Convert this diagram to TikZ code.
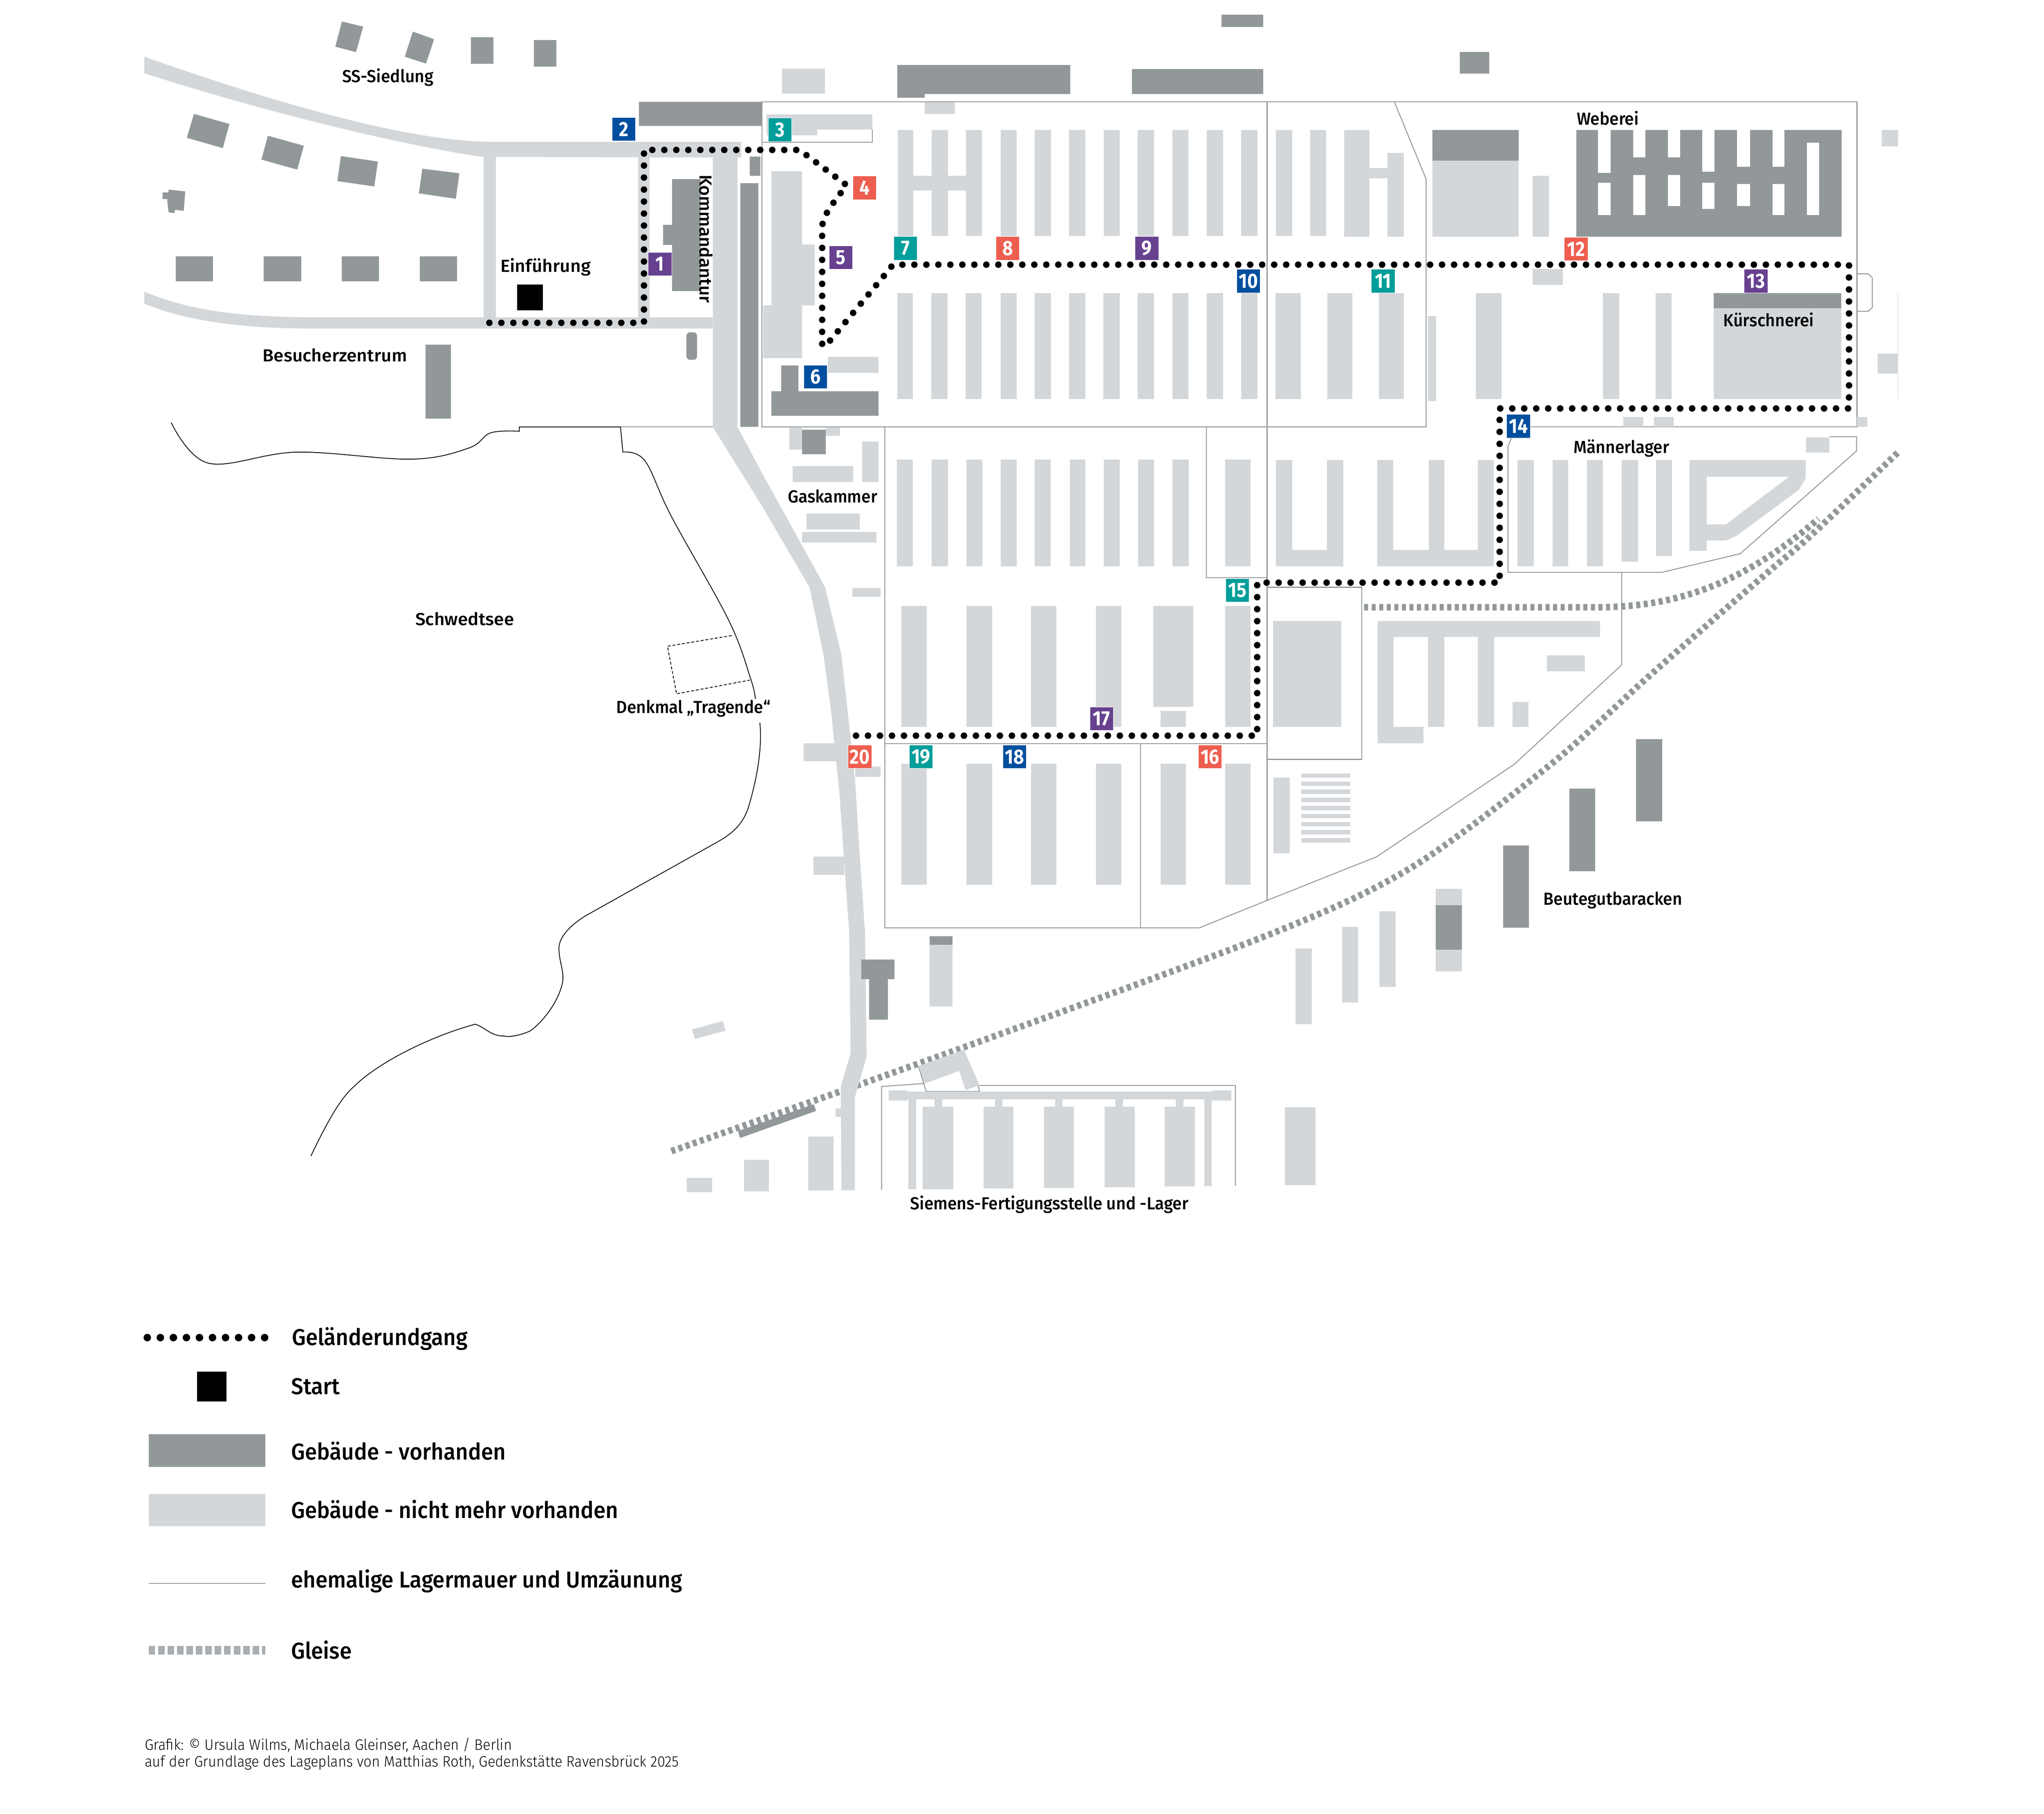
\documentclass[tikz,border=0pt]{standalone}
\usepackage{fontspec}
\setmainfont{Fira Sans}
\newfontfamily\plantext[FakeStretch=0.96]{Fira Sans Medium}
\newfontfamily\plantextbreit[FakeStretch=1.04]{Fira Sans Medium}
\newfontfamily\legendetext[FakeStretch=0.95]{Fira Sans Medium}
\newfontfamily\grafiktext[FakeStretch=0.94]{Fira Sans Light}
\newfontfamily\ziffertext[FakeStretch=0.88]{Fira Sans Bold}

\definecolor{vorhanden}{HTML}{92989A}
\definecolor{abgerissen}{HTML}{D4D7DA}
\definecolor{gleisgrau}{HTML}{A8AEB1}
\definecolor{lila}{HTML}{67418F}
\definecolor{blau}{HTML}{004F9F}
\definecolor{petrol}{HTML}{009E9A}
\definecolor{rot}{HTML}{EE5E50}

\tikzset{
	hell/.style={fill=abgerissen},
	dunkel/.style={fill=vorhanden},
	mauer/.style={draw=vorhanden,line width=0.14mm},
	ufer/.style={draw=black,line width=0.12mm},
	gleis/.style={draw=vorhanden,line width=1mm,dash pattern=on 0.62mm off 0.54mm},
	rundgang/.style={draw=black,line width=1mm,line cap=round,dash pattern=on 0pt off 1.84mm},
	ziffer/.style={text=white,font=\fontsize{9}{9}\ziffertext,inner sep=0pt,minimum size=3.6mm,draw=white,line width=0.04mm},
	plantitel/.style={font=\fontsize{7.6}{9}\plantext,inner sep=0pt,anchor=west},
	plantitelbreit/.style={plantitel,font=\fontsize{7.6}{9}\plantextbreit},
	legende/.style={font=\fontsize{10}{11}\legendetext,inner sep=0pt,anchor=west},
	nachweis/.style={font=\fontsize{6.6}{7.5}\grafiktext,inner sep=0pt,anchor=west},
}

\begin{document}
\begin{tikzpicture}[x=0.2mm,y=-0.2mm]

% frame %{{{2

	\useasboundingbox (0,0) rectangle (1568,1391.2);

% walls and fences %{{{2

	\draw[mauer] (584.5,120) -- (584.5,78) -- (1424.5,78) -- (1424.5,327.5) -- (1173,327.5);
	\draw[mauer] (584.5,120) -- (584.5,327.5) -- (1094,327.5) -- (1094,137.5) -- (1069.6,78);
	\draw[mauer] (476,327.5) -- (547,327.5);
	\draw[mauer] (584.5,78) -- (584.5,109.2) -- (669.2,109.2) -- (669.2,99.5);
	\draw[mauer] (972,78) -- (972,691);
	\draw[mauer] (1424.5,210) -- (1433,210) -- (1436.3,213) -- (1436.3,236) -- (1433,238.8) -- (1424.5,238.8);
	\draw[mauer] (1162,330) -- (1156.8,342.2) -- (1156.8,439) -- (1275,439) -- (1335,424.7) -- (1424.2,345.9) -- (1424.2,334.9) -- (1403.5,334.9);
	\draw[mauer] (1244,439) -- (1244,510) -- (1161.7,586.2) -- (1056,657.2) -- (971.9,690.7) -- (920,711.7) -- (678.8,711.7) -- (678.8,327.5);
	\draw[mauer] (678.8,570.5) -- (972,570.5);
	\draw[mauer] (875,570.5) -- (875,711.7);
	\draw[mauer] (925.5,327.5) -- (925.5,443) -- (972,443);
	\draw[mauer] (972,450.5) -- (1044.5,450.5) -- (1044.5,582.5) -- (972,582.5);
	\draw[mauer] (676.3,912.6) -- (676.3,833.4) -- (708.6,831.1);
	\draw[mauer] (704.5,817.7) -- (710.5,837.2) -- (751.4,837.2) -- (750.3,832.6) -- (947.7,832.6) -- (947.7,909.6);
	\draw[draw=abgerissen,line width=0.06mm] (1456,225) -- (1456,306);

% rails %{{{2

	\draw[gleis] plot[smooth,tension=0.5] coordinates {(515,883) (740.2,803) (977,715.5) (1083.7,664.8) (1190,586) (1264.6,519) (1318,472) (1359.6,436) (1390,410) (1456,347)};
	\draw[gleis] (1046.4,465.8) -- (1225,465.8) .. controls (1290,465.8) and (1340,445) .. (1395,398);

% shore %{{{2

	\draw[ufer] plot[smooth,tension=0.6] coordinates {(131.4,324.2) (160,355.3) (227.7,346.8) (315.6,352.2) (359.5,343.7) (376.4,332) (398.4,330.8)} -- (398.4,327.5) -- (476,327.5) -- (477.8,346.8)
		plot[smooth,tension=0.6] coordinates {(477.8,346.8) (494.7,353.4) (515,396.1) (559,475.8) (575.8,520.5) (579.5,536.1)};
	\draw[ufer] (582.9,554.4) .. controls (585,575) and (580,600) .. (574,619.6) .. controls (570,632) and (562,639) .. (552,644.9) -- (450,702) .. controls (440,708) and (428,718) .. (428.8,728.5) .. controls (429,738) and (433,745) .. (431.5,753.8) .. controls (428,770) and (415,785) .. (406.8,790.7) .. controls (400,794) and (390,796) .. (386.5,794.6) .. controls (377,795) and (372,788) .. (364.6,785.6) .. controls (330,795) and (290,815) .. (271.6,833.4) .. controls (260,843) and (248,867) .. (238.5,886.7);
	\draw[ufer,dash pattern=on 0.45mm off 0.28mm] (561.3,487.5) -- (512,495.7) -- (519,532.2) -- (575.1,521.7);

% roads %{{{2

	\fill[hell] (110.7,43.5) .. controls (200,75) and (310,108.8) .. (378,108.8) -- (568.6,108.8) -- (568.6,120.8) -- (371,120.4) .. controls (310,112) and (200,85) .. (110.7,56.2) -- cycle;
	\fill[hell] (110.7,223.7) .. controls (150,240) and (190,243) .. (240,243.4) -- (546.8,243.4) -- (546.8,252) -- (240,252) .. controls (180,252) and (140,245) .. (110.7,232.9) -- cycle;
	\fill[hell] (371,120) rectangle (380.4,243.5);
	\fill[hell] (489.6,120) rectangle (498.2,243.5);
	\fill[hell] (546.8,120) -- (565.8,120) -- (565.8,327.5) -- (583,360) -- (633,450.5) -- (645.4,502) -- (651.4,556) -- (656,599) -- (659,648) -- (663.6,715) -- (664.8,810.6) -- (655.8,841.7) -- (655.8,913) -- (645.4,913) -- (645,833.4) -- (652.5,808) -- (651.4,715) -- (643.8,607) -- (639.9,569.5) -- (637.8,547.8) -- (631.7,502) -- (621,450.5) -- (583,385.6) -- (546.8,327.5) -- cycle;
	\fill[hell] (641,850) rectangle (645.4,856.6);

% buildings, west %{{{2

	\fill[dunkel] (262.3,16.5) -- (278.6,20.4) -- (273.1,40) -- (257.2,35.8) -- cycle;
	\fill[dunkel] (316.7,24.2) -- (333,30.1) -- (326.8,48.8) -- (310.5,43.5) -- cycle;
	\fill[dunkel] (361.4,28.6) rectangle (378.5,49);
	\fill[dunkel] (409.6,30.8) rectangle (426.7,51.2);
	\fill[dunkel] (148.8,87.4) -- (176,95.1) -- (170.9,113.6) -- (143.3,105.7) -- cycle;
	\fill[dunkel] (205.5,104.1) -- (233.1,111.8) -- (228,130.1) -- (200.5,122.4) -- cycle;
	\fill[dunkel] (261.5,119.7) -- (289.9,123.9) -- (287.1,143) -- (258.8,138.9) -- cycle;
	\fill[dunkel] (324,129.4) -- (352.4,132.9) -- (349.7,152.5) -- (321.3,148.3) -- cycle;
	\fill[dunkel] (129.3,145.4) -- (142.1,146.8) -- (141,161.7) -- (134.4,161) -- (133.6,163.5) -- (129.3,162.8) -- (128.2,152.7) -- (124.7,152.7) -- (124.7,147.6) -- (129.3,147.6) -- cycle;
	\foreach \xa/\xb in {134.8/163.5,202.4/231.2,262.3/290.6,322.1/350.5} {
		\fill[dunkel] (\xa,196.6) rectangle (\xb,215.7);
	}
	\fill[dunkel] (515.7,137.3) rectangle (537.5,223.4);
	\fill[dunkel] (508.7,172.5) rectangle (515.7,187.8);
	\fill[black] (396.7,218.4) rectangle (416.6,238);
	\fill[dunkel] (326.4,264.3) rectangle (345.8,321.2);
	\fill[dunkel,rounded corners=1.5pt] (526.6,254.9) rectangle (534.7,276);
	\fill[dunkel] (567.8,140.6) rectangle (581.8,327.4);
	\fill[dunkel] (490,78.2) rectangle (584.5,96.7);
	\fill[dunkel] (575.1,120) rectangle (583.3,134.9);

% buildings, north %{{{2

	\fill[hell] (600,52.7) rectangle (632.7,71.8);
	\fill[hell] (588,87.7) rectangle (669.2,99.5);
	\fill[hell] (588,99.5) rectangle (626.9,103.7);
	\fill[hell] (709.5,78.5) rectangle (732.6,87.4);
	\fill[dunkel] (688.2,50) rectangle (821.1,72.1);
	\fill[dunkel] (688.2,72) rectangle (709.5,75.1);
	\fill[dunkel] (868.3,53) rectangle (969,72.1);
	\fill[dunkel] (937,11.3) rectangle (969,20.7);
	\fill[dunkel] (1120,39.9) rectangle (1142.3,56.6);
	\fill[hell] (1443.4,99.8) rectangle (1456,112.2);
	\fill[hell] (1440.4,271.4) rectangle (1456,286.6);

% barracks, upper rows %{{{2

	\foreach \xa/\xb in {688.5/700.7,714.7/727.1,741.1/753.3,767.6/779.8,793.7/806.2,820.2/832.7,846.7/858.8,872.8/885.3,899.3/911.5,925.8/938.2,952.2/964.7,978.7/991.2,1005/1017.2} {
		\fill[hell] (\xa,99.6) rectangle (\xb,180.9);
	}
	\fill[hell] (700.7,134.8) rectangle (741.1,146.1);
	\fill[hell] (1031,99.8) rectangle (1050.7,181.6);
	\fill[hell] (1064.5,117.4) rectangle (1077,181.6);
	\fill[hell] (1050.7,129) rectangle (1064.5,136.6);
	\fill[dunkel] (1098.7,99.8) rectangle (1165,123.2);
	\fill[hell] (1098.7,123.2) rectangle (1165,181.6);
	\fill[hell] (1175.7,134.8) rectangle (1188.2,181.6);
	\fill[hell] (1175.7,206.2) rectangle (1199,218.7);

	\foreach \xa/\xb in {688.2/700.4,714.3/726.8,740.8/753,767.6/779.8,793.7/806.2,820.2/832.7,846.4/858.8,872.8/885.3,899.3/911.5,925.8/938.2,952.2/964.7,978.3/998,1018.2/1037.5,1057.8/1077,1132/1151.7,1229.5/1242,1270/1282.2} {
		\fill[hell] (\xa,225) rectangle (\xb,306.2);
	}
	\fill[hell] (1095.3,242.5) rectangle (1101.7,307.5);
	\fill[hell] (1314.6,236.4) rectangle (1412.3,306);
	\fill[dunkel] (1314.6,225) rectangle (1412.3,236.4);

% weaving mill %{{{2

	\fill[dunkel] (1209.2,99.8) rectangle (1412.7,181.6);
	\foreach \xa/\xb/\ya/\yb in {1225.8/1235.6/99/132.6,1252.8/1262.3/99/120.8,1279.5/1289/99/120.8,1305.9/1315.3/99/131.7,1332.6/1342.4/99/127.8,1359.6/1368.7/99/127.8,1386/1395.4/109.5/164.9,
		1225.8/1235.6/140.2/164.9,1252.8/1262.3/134.2/164.9,1279.5/1289/134.2/158.2,1305.9/1315.3/140.2/160.3,1332.6/1342.4/141.1/158.2,1359.6/1368.7/141.1/164.9} {
		\fill[white] (\xa,\ya) rectangle (\xb,\yb);
	}

% west of the main camp %{{{2

	\fill[hell] (591.8,131.4) rectangle (615.2,234.3);
	\fill[hell] (615.2,187.6) rectangle (625,234.3);
	\fill[hell] (585.4,234.3) rectangle (615.2,274.8);
	\fill[hell] (635,273.7) rectangle (673.9,286);
	\fill[dunkel] (599.4,280.2) rectangle (612.4,300.2);
	\fill[dunkel] (591.8,300.2) rectangle (673.9,318.8);
	\fill[hell] (605.5,328) rectangle (615.2,345);
	\fill[hell] (633.5,328) rectangle (644.4,334.2);
	\fill[dunkel] (615.2,329.6) rectangle (633.5,348.3);
	\fill[hell] (661.5,338.8) rectangle (674,369.6);
	\fill[hell] (608,357.5) rectangle (654.5,369.6);
	\fill[hell] (618.6,394) rectangle (659.4,406);
	\fill[hell] (615.2,408) rectangle (672.4,416);
	\fill[hell] (653.9,450.8) rectangle (675.5,458);
	\fill[hell] (616.5,570) rectangle (641.7,584);
	\fill[hell] (656,588) rectangle (675.5,595.7);
	\fill[hell] (624,657) rectangle (647.5,671);

% barracks, middle rows %{{{2

	\foreach \xa/\xb in {688/700.4,714.7/727.2,741.2/753.7,767.6/779.8,793.8/806,820.6/832.7,846.7/858.9,872.9/885.4,899.4/911.8,939.8/959.3} {
		\fill[hell] (\xa,352.6) rectangle (\xb,434.3);
	}
	\foreach \xa/\xb in {691.6/711,741.2/761,791/810.2,840.7/860.1,939.8/959.3} {
		\fill[hell] (\xa,464.6) rectangle (\xb,557.6);
		\fill[hell] (\xa,585.7) rectangle (\xb,678.7);
	}
	\fill[hell] (890.2,585.7) rectangle (909.7,678.7);
	\fill[hell] (884.5,464.6) rectangle (915.5,542.2);
	\fill[hell] (890.2,545.4) rectangle (909.7,557.6);

	% U and W
	\foreach \xa/\xb in {978.8/991.2,1018/1030.5,1056.4/1068.6,1096/1108,1133.8/1146} {
		\fill[hell] (\xa,352.8) rectangle (\xb,434.3);
	}
	\fill[hell] (978.8,421.8) rectangle (1030.5,434.3);
	\fill[hell] (1056.4,421.8) rectangle (1146,434.3);

	% men's camp
	\foreach \xa/\xb/\yb in {1164.2/1176.7/434.4,1191/1203/434.4,1217.3/1229.5/434.4,1244/1256.5/430.8,1270.4/1282.5/426.5} {
		\fill[hell] (\xa,352.9) rectangle (\xb,\yb);
	}
	\fill[hell,even odd rule] (1296,352.9) -- (1385.3,352.9) -- (1385.3,366.6) -- (1379.9,375.7) -- (1332.6,410.7) -- (1324,414.6) -- (1309.2,414.6) -- (1309.2,422.5) -- (1296,422.5) -- cycle
		(1309.2,365.7) -- (1372.4,365.7) -- (1324,402.2) -- (1309.2,402.2) -- cycle;
	\fill[hell] (1385.6,335.5) rectangle (1403.2,347.1);
	\foreach \xa/\xb in {1245.4/1260.6,1268.7/1283.9,1424.5/1432.6} {
		\fill[hell] (\xa,320) rectangle (\xb,327.4);
	}

% south east %{{{2

	\fill[hell] (976.6,476.2) rectangle (1029,557.6);
	\fill[hell] (1056.7,476.2) rectangle (1227.4,488.6);
	\fill[hell] (1056.7,488.6) rectangle (1069.1,570);
	\fill[hell] (1069.1,557.6) rectangle (1091.8,570);
	\fill[hell] (1095.4,488.6) rectangle (1107.8,557.6);
	\fill[hell] (1133.7,488.6) rectangle (1146.1,557.6);
	\fill[hell] (1186.6,502.6) rectangle (1215.7,515);
	\fill[hell] (1160.3,538.3) rectangle (1172.4,557.6);
	\fill[hell] (976.8,596.6) rectangle (989.3,654.4);
	\foreach \i in {0,...,8} {
		\fill[hell] (998.1,{593.3+6.2*\i}) rectangle (1035.7,{596.6+6.2*\i});
	}
	\fill[dunkel] (1255,567) rectangle (1275,630);
	\fill[dunkel] (1204,605) rectangle (1223.5,668.4);
	\fill[dunkel] (1153,648.4) rectangle (1172.7,711.7);
	\fill[hell] (1101.4,681.8) rectangle (1121.3,745.2);
	\fill[dunkel] (1101.4,694.2) rectangle (1121.3,728.5);
	\fill[hell] (1058,699) rectangle (1070.5,757);
	\fill[hell] (1029.4,711) rectangle (1041.8,769);
	\fill[hell] (993.9,727.4) rectangle (1006.3,785.5);

% south, Siemens %{{{2

	\fill[dunkel] (660.7,735.9) rectangle (686,751);
	\fill[dunkel] (666.6,751) rectangle (681.1,782);
	\fill[hell] (713,724.6) rectangle (730.6,772);
	\fill[dunkel] (713,718.2) rectangle (730.6,724.6);
	\fill[hell] (530.9,789.7) -- (554.3,783.2) -- (556.6,790.6) -- (533.1,796.9) -- cycle;
	\fill[hell] (704.5,817.7) -- (739.5,805.2) -- (751.4,832.6) -- (740.6,836) -- (735.8,821.5) -- (709.4,831.1) -- cycle;
	\fill[dunkel] (624.2,847) -- (626.1,852.1) -- (567.7,872.9) -- (566.2,867.6) -- cycle;
	\fill[hell] (526.8,903.6) rectangle (546.2,914.3);
	\fill[hell] (570.7,889.7) rectangle (590,913.8);
	\fill[hell] (620.1,871.9) rectangle (639.5,913.2);

	\fill[hell] (681.9,837.2) rectangle (944.4,843.3);
	\fill[hell] (681.9,836.4) rectangle (696,844.3);
	\fill[hell] (930.2,836.4) rectangle (944.4,844.3);
	\fill[hell] (696.7,843) rectangle (702.7,912.3);
	\fill[hell] (923.9,843) rectangle (929.5,909.7);
	\foreach \xa/\xb/\ca/\cb/\yb in {707.9/731.3/716.8/722.8/912.2,754.4/777.4/763.3/768.9/911.7,800.8/823.9/809.4/815/911.2,847.3/870.4/855.5/861.5/910.6,893.4/916.5/902/908/910} {
		\fill[hell] (\ca,843) rectangle (\cb,849);
		\fill[hell] (\xa,848.9) rectangle (\xb,\yb);
	}
	\fill[hell] (985.6,849.2) rectangle (1009,909);

% tour %{{{2

	\draw[rundgang] (375.4,247.6) -- (494,247.6) -- (494,115) -- (613.3,115) -- (649.4,142) .. controls (640,155) and (630.7,165) .. (630.7,175) -- (630.7,268.5);
	\draw[rundgang] (636.8,261.2) -- (679,210.5) -- (685,203) -- (1418.4,203) -- (1418.4,313.3) -- (1150.4,313.3) -- (1150.4,446.9) -- (964.4,446.9) -- (964.4,564.3) -- (654.5,564.3);

% stations %{{{2

	\foreach \i/\xa/\ya/\farbe in {1/506.2/202.5/lila,2/478.4/99/blau,3/598.2/99.5/petrol,4/663.2/144/rot,5/645/197.5/lila,6/625.5/289/blau,7/694.6/190.4/petrol,8/773/190.4/rot,9/879.7/190.4/lila,10/957.7/215.5/blau,11/1061/215.5/petrol,12/1209/191/rot,13/1347/215.5/lila,14/1164.8/326.9/blau,15/949.2/452.8/petrol,16/928.2/580.5/rot,17/845/551.3/lila,18/778.3/580.5/blau,19/706.5/580.5/petrol,20/659.6/580.5/rot} {
		\node[ziffer,fill=\farbe] (station\i) at (\xa,\ya) {\i};
	}

% labels %{{{2

	\node[plantitel] (siedlung) at (262.3,59.3) {SS-Siedlung};
	\node[plantitelbreit] (einfuehrung) at (383.5,204.8) {Einführung};
	\node[plantitelbreit] (besucher) at (201.2,272.4) {Besucherzentrum};
	\node[plantitelbreit,anchor=center,rotate=-90] (kommandantur) at (541.7,183.2) {Kommandantur};
	\node[plantitel] (gaskammer) at (604,380.7) {Gaskammer};
	\node[plantitelbreit] (schwedtsee) at (318.3,474.7) {Schwedtsee};
	\node[plantitel] (denkmal) at (472.4,543.5) {Denkmal „Tragende“};
	\node[plantitel] (weberei) at (1209.2,90.7) {Weberei};
	\node[plantitel] (kuerschnerei) at (1321.7,245.2) {Kürschnerei};
	\node[plantitel] (maennerlager) at (1206.8,343.7) {Männerlager};
	\node[plantitel] (beutegut) at (1183.7,690.7) {Beutegutbaracken};
	\node[plantitel] (siemens) at (697.9,924) {Siemens-Fertigungsstelle und -Lager};

% legend %{{{2

	\coordinate (rundA) at (113,1026);
	\coordinate (rundB) at (206,1026);
	\draw[rundgang,line width=1.15mm,dash pattern=on 0pt off 2mm] (rundA) -- (rundB);
	\fill[black] (151.2,1052) rectangle (173.7,1075);
	\fill[dunkel] (114,1100.2) rectangle (203.5,1125.3);
	\fill[hell] (114,1145.9) rectangle (203.5,1170.7);
	\coordinate (mauerA) at (114,1214.5);
	\coordinate (mauerB) at (203.5,1214.5);
	\draw[mauer] (mauerA) -- (mauerB);
	\coordinate (gleisA) at (114,1265.8);
	\coordinate (gleisB) at (203.5,1265.8);
	\draw[gleis,draw=gleisgrau,line width=1.3mm,dash pattern=on 1mm off 0.45mm] (gleisA) -- (gleisB);

	\node[legende] (lgRundgang) at (223.6,1027) {Geländerundgang};
	\node[legende] (lgStart) at (223,1063.3) {Start};
	\node[legende] (lgVorhanden) at (223,1112.8) {Gebäude - vorhanden};
	\node[legende] (lgAbgerissen) at (223,1157.8) {Gebäude - nicht mehr vorhanden};
	\node[legende] (lgMauer) at (223,1212.8) {ehemalige Lagermauer und Umzäunung};
	\node[legende] (lgGleis) at (223,1265.5) {Gleise};

% credits %{{{2

	\node[nachweis] (nachweisA) at (110.7,1338.7) {Grafik: © Ursula Wilms, Michaela Gleinser, Aachen / Berlin};
	\node[nachweis] (nachweisB) at (110.7,1352) {auf der Grundlage des Lageplans von Matthias Roth, Gedenkstätte Ravensbrück 2025};

\end{tikzpicture}
\end{document}
